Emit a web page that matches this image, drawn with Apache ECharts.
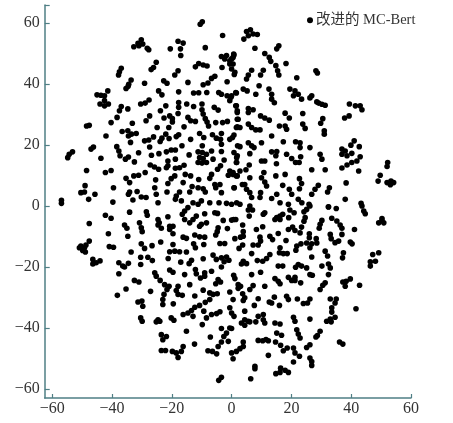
<!DOCTYPE html>
<html><head><meta charset="utf-8">
<style>html,body{margin:0;padding:0;background:#fff}#c{width:453px;height:423px}</style>
<script src="https://cdn.jsdelivr.net/npm/echarts@6/dist/echarts.min.js"></script>
</head><body><div id="c"></div>
<script>
const seriesName = '改进的 MC-Bert';
const xTicks = [-60,-40,-20,0,20,40,60];
const yTicks = [-60,-40,-20,0,20,40,60];
const upperLeft = [[-10.5,59.7],[-9.8,60.5],[-3,56],[-32.7,52.3],[-31.3,53.4],[-30.2,54.6],[-29.7,53.2],[-31,52.6],[-27.7,51.3],[-28.2,51.8],[-17.9,54.1],[-16.2,53.5],[-17.1,51.6],[-17,49.4],[-20.5,51.6],[-8.8,52],[-3.4,49.1],[-1.7,49.4],[0.8,49.6],[-2.3,48.3],[-0.6,47.7],[0.5,48.8],[-0.6,46.6],[0,45],[0.9,43.2],[-3.2,45.5],[-25.2,47.2],[-26.1,45.5],[-26.9,44.8],[-12.1,45.7],[-11,46.8],[-9.5,46.3],[-8.2,46],[-36.9,45.2],[-37.5,44.1],[-37.8,43],[-17.9,44.4],[-19,43],[-5.6,42.6],[-6.7,41.9],[-1.5,40.8],[-33.6,41.4],[-34.4,40],[-35.3,38.6],[-34.6,39.3],[-29.1,40.3],[-22.7,41.1],[-21.6,40.3],[-14.6,40.6],[-9.5,39.8],[-7.9,40.4],[-41.4,37.8],[-42.5,36.2],[-45,36.5],[-43.7,36.4],[-42.5,34.6],[-44,33.5],[-42.5,32.9],[-41.2,33.5],[-24.4,37.8],[-23.3,36.5],[-17.7,37.5],[-12.7,37.1],[-11,37.2],[-8.3,37.3],[-4.3,37.3],[-3.4,36.7],[-1.5,36.2],[-0.2,35.7],[-0.6,34.6],[1.4,37.3],[-30.4,33.5],[-28.9,33.8],[-27.6,34.8],[-36.9,32.7],[-37.5,31.3],[-34.7,31.9],[-38.3,29.1],[-40.3,27.4],[-17.7,34],[-17.7,32.4],[-15,33.5],[-12.7,32.7],[-9.9,33.5],[-9.9,31.6],[-5.8,32.4],[-4.5,31.5],[-22,32.9],[-23.8,31.3],[1.6,32.9],[1.9,31.3],[-27.4,29.6],[-28.6,28],[-22.6,28.9],[-20.7,29.6],[-19.8,28.7],[-19.8,27.6],[-17.9,30.4],[-14.6,29.1],[-13.7,28],[-12.1,27.8],[-9.5,30.2],[-8.8,28.7],[-8.2,27.6],[-7.7,26.3],[-5.3,27.4],[-3,27.4],[-1.4,27.8],[1.9,28.5],[-48.5,26.3],[-47.6,26.5],[-33.2,27.2],[-24.9,25.8],[-21,25.8],[-15.9,26],[1.9,26],[-36.6,24.5],[-34.7,24.7],[-34.5,23],[-31.9,23.8],[-33.5,23.6],[-33.8,20.9],[-42,23],[-22,23.6],[-23.3,22.3],[-23.9,21.2],[-29.1,21.4],[-27.7,21.7],[-26.1,22.7],[-17.7,23.4],[-18.5,22.8],[-20.9,22.2],[-13.7,21.9],[-10.7,23.8],[-9.3,22.5],[-6.4,23.4],[-5.1,22.3],[-3.4,23.8],[-3.7,21.9],[-3.4,20.3],[-0.6,21.9],[0.8,23.3],[2,19.8],[-46.2,19.4],[-47,18.7],[-53.2,17.8],[-54.3,17],[-54.8,15.9],[-38.4,19.5],[-37.7,18.1],[-37.3,16.5],[-27.4,19.4],[-43.7,15.7],[-35.5,15.4],[-34.5,16.1],[-32.5,14.5],[-31.1,17.5],[-24.3,17.2],[-26.8,16.7],[-21.8,17.8],[-20.2,18.4],[-18.8,18.4],[-16.6,19.8],[-14.2,16.8],[-9.8,19.8],[-11.2,17.8],[-9.8,17.6],[-8.4,17],[-6.7,18.1],[-10.7,15.9],[-9.5,15.6],[-8.4,14.3],[-11.2,14.3],[-9.9,14.1],[-3.4,17.9],[-2.5,15.1],[-6.2,15.4],[0.8,17.6],[1.7,15.9],[1.7,14.3],[-21.3,14.8],[-21.3,13.2],[-18.8,15.4],[-21.8,12.6],[-18.8,12.4],[-17.4,12.6],[-15.9,13.4],[-27.2,13.5],[-25.8,12.8],[-24.4,12.1],[-48.5,11.7],[-40.3,11.7],[-42.2,11],[-28.9,11],[-31.1,10.1],[-32.7,9.9],[-35.3,9.1],[-34.1,7.7],[-25.4,8.6],[-19,9.9],[-20.2,9],[-15.5,10.4],[-13.7,9.9],[-6.7,10.4],[-7.3,9.1],[-3.7,13.2],[-4.7,12.1],[-0.6,11.5],[-1.1,10.1],[0.5,10.4],[1.9,9.9],[-11,8.7],[-21.3,7.4],[-16.2,7.7],[-49,6.7],[-50.4,4.4],[-49.2,4.6],[-45.7,3.9],[-47.8,2.2],[-39.5,6],[-25.7,6],[-34.1,4.6],[-34.5,3.9],[-31.6,4.8],[-13.2,6.4],[-14,4.6],[-11.2,6],[-9.5,5.7],[-8.8,4.6],[-5.6,7.1],[-3.9,7.1],[-5.3,6],[-3.4,4.4],[0.8,6],[-17.4,4.6],[-18.5,3.3],[-21.6,4.6],[-25.2,3.9],[-30.2,3],[-28.6,2.8],[-33,2],[-39.7,1.3],[-56.9,1.9],[-56.9,0.9],[-24.6,1.1],[-18.8,2.2],[-16.8,1.7],[-12.9,1.1],[-10.1,1.7],[-11.2,0.6],[-7.3,1.1],[-4.2,1.1],[-1.7,0.9],[0,0.6],[1.7,1.1]];
const upperRight = [[4.1,54.8],[5,57.3],[6.3,57.9],[7.2,56.5],[8.6,56.3],[5.6,55.9],[7.8,51.8],[15.8,52.6],[15.1,51.6],[11.1,50.1],[12.6,48.8],[13.1,47.5],[18.2,46.8],[0.7,49.9],[0,48.3],[0.5,46.6],[1.1,43.9],[14.8,46.1],[15.4,44.4],[15.8,43],[28.7,43.7],[28.2,44.4],[6.7,44.6],[5.6,43],[5,41.7],[10.6,44.6],[9.7,43],[21.8,42.1],[9.2,39.5],[3.9,38.4],[5.2,37.8],[8.1,36.7],[12.5,38.4],[13.4,36.7],[13.4,35.1],[14.3,33.9],[19.5,38.4],[21.2,37.8],[22.3,36.7],[23.4,35.1],[20.7,36.2],[26.8,36.2],[26.2,35.5],[1.6,37.1],[0,36.2],[29.1,33.8],[30.2,33.4],[28.5,34.2],[31.3,33.1],[39.4,33.5],[41.4,32.9],[43,32.9],[43.6,31.6],[39.3,29.6],[37.8,28.9],[1.4,32.9],[1.9,30.7],[2.2,28.5],[5.6,32],[7.2,31.6],[5.6,30.7],[9.7,29.6],[11.1,28.9],[12.6,28.2],[17.9,30.5],[19.3,28.9],[23.8,30.4],[30.5,28.7],[29.8,27.2],[2.8,25.8],[1.6,25.8],[5.6,26.9],[6.7,25.8],[8.1,25],[9.5,25],[16,26.3],[17.9,26.3],[18.4,25.2],[23.8,26.9],[24.6,25.5],[31,24.7],[31,23.6],[13.4,23],[0.3,22.5],[2.8,19.5],[5.6,20.8],[6.7,19.8],[7.5,19.2],[10,20.8],[17.3,21.1],[21.4,21.1],[22.9,20.8],[22.9,19.2],[26.2,19.2],[41,21.4],[39.9,20],[42.7,19.5],[36.9,18.7],[38,18.1],[36.9,17],[38.6,16.5],[40.2,17.3],[43,16.2],[41.9,14.8],[40.2,14.3],[38.6,13.5],[36.9,12.5],[42.5,11.5],[6.1,17.2],[13.4,17.8],[15.1,17.9],[14.8,16.5],[18.4,17],[20.1,15.6],[21.4,14.3],[22.6,14.3],[23.1,16.2],[29.6,17],[30.2,15.4],[1.9,16.5],[1.6,14.3],[10,14.8],[11.1,14.8],[15,13.9],[5.9,13.5],[4.8,11.9],[26.8,11.9],[31.3,11.9],[52.2,14.3],[52,13],[0.5,11],[1.6,9.9],[2.8,11.5],[10.8,11],[10,9.3],[11.1,7.9],[11.7,6.6],[14.8,9.9],[17.9,10.4],[6.1,9.3],[4.4,7.1],[3.6,7.1],[22.7,9],[23.4,7.4],[49.7,10.1],[49,8.2],[52,7.7],[53.3,8.2],[54.2,7.7],[53.1,7],[38.3,7.6],[0.9,6],[17.1,6.8],[19.3,5.5],[22.7,5.7],[29,6.8],[27.9,5.5],[26.8,3.9],[32.7,6],[32.1,4.6],[5,5.5],[6.1,4.4],[6.7,2.8],[9.7,4.4],[9.5,2.8],[15.1,3.9],[13.4,2.5],[16.2,1.1],[20.1,3.9],[38,2.2],[43.3,0.9],[22.3,2.2],[23.5,1.1],[25.9,0.6],[19,0.6],[32.4,-0.2],[2.8,0.6],[6.1,0]];
const lowerLeft = [[-47.6,-5.7],[-42.2,-3],[-40.3,-4],[-34.1,-2],[-28.5,-1.9],[-28.2,-3],[-35.8,-6.2],[-35,-7.3],[-30.8,-5.5],[-30.2,-7.1],[-29.9,-8.4],[-24.6,-4.4],[-24.6,-6.2],[-23.5,-7.3],[-24.2,-5.5],[-21.3,-3.5],[-20.7,-6.6],[-19.6,-6.6],[-20.7,-7.7],[-19.6,-9.1],[-16.5,-2.7],[-15.7,-4.4],[-14,-5.5],[-12.9,-4.4],[-11.8,-3.3],[-14.6,-0.5],[-15.7,-1.6],[-9,-2.5],[-5.6,-2.2],[-4.7,-2.4],[-10.1,-6],[-8.4,-5.5],[-10.7,-6.6],[-2.8,-4.7],[0,-4.6],[1.4,-4.4],[-4.5,-7.1],[-4.8,-8.4],[-5.3,-9.5],[-1.4,-7.4],[-41.2,-9.1],[-34.7,-9.9],[-16.2,-10.2],[-15.1,-10.6],[-12.3,-9.5],[-10.7,-10.1],[-9,-10.2],[-12.7,-12.4],[-12.1,-13.7],[-9.3,-12.6],[-47.6,-11.5],[-48.7,-12.8],[-50.4,-13.1],[-50.9,-13.7],[-49.8,-14.6],[-49.2,-13.7],[-48.9,-15.1],[-40.9,-13.3],[-39.5,-13.5],[-23.7,-11.8],[-30.2,-12.4],[-29.1,-13.9],[-26.6,-13],[-19.6,-12.6],[-20.7,-15],[-19,-14.8],[-17.4,-15],[-15.1,-15.1],[-33.6,-15.1],[-30.4,-16.8],[-28,-16.8],[-26.5,-17.9],[-21.2,-17.2],[-3.9,-12.3],[-2.3,-12.3],[-6.2,-16.1],[-5.1,-17.5],[-3.4,-17],[-1.7,-16.7],[-0.9,-17.8],[-2.5,-18.3],[-9.5,-17.3],[-13.4,-17.8],[-14.2,-18.9],[-17,-18.4],[-46.4,-17.5],[-46.4,-19],[-45.3,-18.6],[-44,-18],[-37.7,-18.6],[-36.4,-19.7],[-34.5,-18.8],[-35.8,-20],[-30.4,-19.2],[-3.4,-20],[-20.7,-21],[-19.6,-21.7],[-12.1,-20.8],[-11.8,-22.2],[-10.4,-23.6],[-9,-21.9],[-9,-23],[-6.7,-21.4],[-15.7,-22.5],[-37.7,-22.2],[-25.7,-21.9],[-25.2,-23],[-23.9,-24.4],[-22.4,-25.8],[-20.9,-26.3],[-21.6,-27.4],[-32.5,-24.4],[-31,-24.9],[-4.5,-24.1],[-3.7,-24.9],[-5.3,-25.5],[-35.3,-27.2],[-14,-25.8],[-17.9,-26.3],[-18.5,-27.7],[-17.9,-29],[-16.5,-29.3],[-27.1,-28],[-38.2,-29.3],[-9.5,-27.6],[-7.3,-28.5],[-6.2,-29],[-4.8,-28.8],[-0.6,-28.2],[-12.3,-29.5],[-22.6,-29],[-23,-30.7],[-23,-32.3],[-7.3,-30.7],[-8.8,-31.6],[-31.3,-31.5],[-30,-31.2],[-29.7,-32.9],[-19.5,-32.1],[-10.7,-32.6],[-12.3,-33.2],[-13.4,-34.3],[-14.6,-35.1],[-16.2,-35.6],[-12.9,-36.2],[-9.3,-34.5],[-0.6,-33.4],[-3.9,-34.7],[-5,-35.3],[-6.7,-35.6],[-8.4,-36.7],[-30.4,-36.7],[-29.9,-37.8],[-24.6,-37.3],[-25.2,-38],[-24,-37.8],[-20.2,-36.7],[-19.3,-37.5],[-9.8,-38.9],[-15.1,-41.1],[-3.4,-40.2],[-0.6,-40],[-1.7,-41.7],[-2.6,-42.8],[-1.1,-44.4],[-3.4,-44.6],[-4.5,-46.1],[-7.1,-43],[-23.5,-42.2],[-21.8,-42.8],[-23,-43.9],[-12.4,-45.3],[-16.2,-46.1],[-16.8,-47.7],[-18.5,-48.2],[-17.9,-49.7],[-19.8,-47.7],[-23.5,-47.4],[-22.1,-47.4],[-7.9,-47.5],[-6.4,-47.7],[-5,-48.5],[-3.4,-56.2],[-4.3,-57.2]];
const lowerRight = [[5.6,-1.3],[7,-1.3],[5.9,-3.3],[11.1,-2.2],[10.6,-2.7],[16.2,-3.3],[15.1,-3.8],[14.5,-4.4],[17.1,-2.7],[16.2,-4.4],[19.5,-1.3],[20.9,-2.2],[19.1,-3.8],[26.2,0],[25.1,-1.1],[24.2,-1.9],[24.6,-3.8],[24.2,-5],[32.4,-0.3],[35,-0.8],[43.6,0],[44.7,-2.5],[44.2,-1.6],[0.7,-4.4],[33.5,-4],[35.2,-4.9],[36.3,-6.2],[36.9,-7.3],[36.9,-9.3],[30.2,-4.7],[29.6,-6],[29.3,-7.3],[50.3,-4.1],[49.2,-5.5],[50.9,-5.5],[50.3,-4.8],[41.1,-7.7],[3.7,-6.2],[3.9,-8.4],[3.9,-9.9],[3,-10.2],[8.3,-7.7],[10.4,-6.8],[19,-7.7],[20.4,-6.9],[21.2,-8],[22.9,-8.8],[23.4,-6.9],[15.6,-9],[12.8,-9.9],[13.7,-11],[26,-9.1],[26,-10.4],[33,-9.3],[33.3,-10.7],[34.6,-12],[35.8,-11.5],[1.1,-10.7],[9.5,-10.2],[9.7,-11.5],[8.9,-12.8],[7.2,-12.8],[18.2,-11.3],[28.3,-10.7],[28.5,-12.1],[26.8,-12.4],[25.1,-12.1],[26.2,-13.7],[23.2,-12.4],[21.8,-13.1],[21.5,-14.5],[39.7,-11.8],[40.3,-12.4],[3.7,-12.8],[2.5,-13.9],[16.2,-13.7],[16,-15.3],[17.3,-15.6],[18.6,-15.6],[6.7,-15.6],[31.3,-14.8],[32.1,-16.4],[37.4,-15.3],[37.1,-17],[26.8,-16.7],[49.2,-15.3],[47.2,-15.9],[12.8,-15.9],[11.7,-17.2],[10.4,-18.1],[8.6,-17.9],[3.9,-18.1],[3.3,-19],[5,-18.9],[48.1,-18.1],[46.4,-18.3],[46.4,-19.7],[15.6,-19.7],[17.1,-19.7],[22.3,-19.2],[21.4,-20.1],[23.4,-19.7],[25.1,-20.3],[30.2,-19.7],[32.4,-19],[33,-20.3],[32.4,-22.5],[9.7,-21.7],[6.7,-22.5],[26.2,-22.5],[27,-22.7],[0.7,-22.7],[1.1,-23.8],[2.2,-25.8],[3,-26.3],[2.2,-27],[14.5,-23.8],[15.6,-24.7],[16.2,-25.5],[19,-23.4],[20.1,-24.4],[21.2,-23.4],[21.2,-24.4],[23.1,-25.2],[39.7,-23.9],[37.2,-24.9],[38.3,-24.7],[38,-26.3],[42.8,-26],[31.3,-25.2],[30.5,-26],[29.6,-27.4],[7.2,-26.1],[6.1,-27.4],[11.1,-26.3],[3.7,-28.8],[4.4,-30.1],[3.9,-31],[0.5,-30.7],[8.9,-30.4],[14.3,-29.9],[12.6,-31.5],[13.4,-31.8],[18.4,-29.6],[19,-30.7],[22,-30.5],[26.2,-30.5],[25.4,-31.8],[24,-32],[16,-32.6],[7.6,-32.6],[33,-30.5],[35,-30.5],[34.6,-31.8],[33.5,-33.4],[33.5,-34.8],[41.6,-33.7],[0,-35.1],[0.8,-36.2],[4.4,-34.5],[8.9,-36.2],[10.6,-35.6],[10.6,-37.3],[11.1,-38.4],[20.7,-36.5],[21.2,-37.8],[26.2,-37.1],[34.6,-36.5],[33,-37.1],[31.8,-37.8],[33.3,-38],[3.3,-38.4],[4.4,-37.3],[5.6,-37.8],[4.4,-39.1],[6.1,-38],[8.1,-38],[14.5,-38.4],[16.2,-38.7],[0,-40.2],[15.1,-41.7],[16.7,-42.4],[21.8,-40.6],[22.3,-42],[22.9,-43.3],[29.6,-41.1],[28.7,-42.5],[28.2,-43],[8.9,-44.1],[10.4,-44.2],[11.5,-43.8],[12.3,-44.2],[14.7,-44.6],[16.4,-45.7],[3.9,-44.6],[3.9,-46.1],[2.8,-46.8],[1.6,-47.7],[0,-48.2],[0.5,-50.1],[36.1,-44.6],[37.2,-45.3],[26.2,-45.5],[25.1,-46.4],[20.7,-46.6],[18.6,-46.6],[17.3,-47.5],[21.2,-48.2],[22.7,-49.3],[20.7,-51.2],[12.3,-49],[26.2,-49.9],[26.8,-51],[26.8,-52.3],[7.8,-52.6],[7.8,-53.4],[16.4,-53.2],[17.9,-53.9],[19,-54.6],[16.2,-54.6],[14.8,-55],[6.4,-56.7]];
const points = [...upperLeft, ...upperRight, ...lowerLeft, ...lowerRight];

const AXIS = '#4f7f85', TEXT = '#333333';
const FONT = '"Liberation Serif","Noto Sans CJK SC",serif';
const minusFmt = v => String(v).replace('-', '\u2212');
const chart = echarts.init(document.getElementById('c'), null, {renderer: 'canvas'});
chart.setOption({
  animation: false,
  backgroundColor: '#fff',
  grid: {left: 44.7, right: 42, top: 5, bottom: 25},
  legend: {
    data: [seriesName], left: 302, top: 8, itemWidth: 6, itemHeight: 6, itemGap: 3, icon: 'circle',
    textStyle: {fontFamily: FONT, fontSize: 14.5, color: TEXT, padding: [0, 0, 0, -2]}
  },
  xAxis: {
    type: 'value', min: -62.5, max: 60, splitLine: {show: false},
    axisLine: {onZero: false, lineStyle: {color: AXIS, width: 1.5}},
    axisTick: {inside: true, length: 4, lineStyle: {color: AXIS, width: 1.2}, customValues: xTicks},
    axisLabel: {customValues: xTicks, formatter: minusFmt, fontFamily: FONT, fontSize: 16, color: TEXT, margin: 3, hideOverlap: false, showMinLabel: true, showMaxLabel: true}
  },
  yAxis: {
    type: 'value', min: -63, max: 66, splitLine: {show: false},
    axisLine: {onZero: false, lineStyle: {color: AXIS, width: 1.5}},
    axisTick: {inside: true, length: 5, lineStyle: {color: AXIS, width: 1.2}, customValues: [...yTicks, 66]},
    axisLabel: {customValues: yTicks, formatter: minusFmt, fontFamily: FONT, fontSize: 16, color: TEXT, margin: 5, hideOverlap: false}
  },
  series: [{
    name: seriesName, type: 'scatter', data: points, symbol: 'circle', symbolSize: 5.6,
    itemStyle: {color: '#000', opacity: 1}, large: false, clip: false
  }]
});
</script></body></html>
